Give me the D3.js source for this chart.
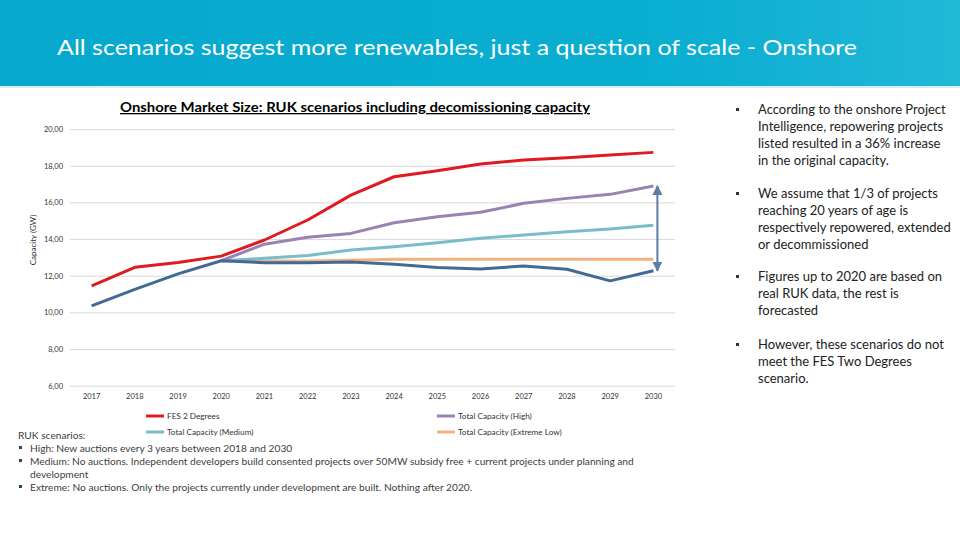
<!DOCTYPE html>
<html><head><meta charset="utf-8">
<script src="https://cdn.jsdelivr.net/npm/d3@7/dist/d3.min.js"></script>
<style>body{margin:0;background:#fff;} svg{display:block;}</style>
</head><body>
<script>
const years = [2017,2018,2019,2020,2021,2022,2023,2024,2025,2026,2027,2028,2029,2030];
const fes2Degrees   = [11.44,12.46,12.72,13.07,13.95,15.04,16.40,17.40,17.73,18.10,18.31,18.44,18.59,18.73];
const capHigh       = [null,null,null,12.82,13.72,14.10,14.31,14.89,15.22,15.46,15.95,16.22,16.44,16.90];
const capMedium     = [null,null,null,12.82,12.95,13.10,13.40,13.58,13.80,14.04,14.22,14.40,14.55,14.75];
const capExtremeLow = [null,null,null,12.82,12.80,12.80,12.84,12.90,12.90,12.90,12.90,12.90,12.90,12.90];
const capLow        = [10.35,11.26,12.10,12.82,12.71,12.71,12.75,12.62,12.45,12.37,12.53,12.35,11.72,12.27];
const yTicks = [6,8,10,12,14,16,18,20];
const legendLabels = ["FES 2 Degrees","Total Capacity (High)","Total Capacity (Medium)","Total Capacity (Extreme Low)"];
const rightNotes = [
  ["According to the onshore Project","Intelligence, repowering projects","listed resulted in a 36% increase","in the original capacity."],
  ["We assume that 1/3 of projects","reaching 20 years of age is","respectively repowered, extended","or decommissioned"],
  ["Figures up to 2020 are based on","real RUK data, the rest is","forecasted"],
  ["However, these scenarios do not","meet the FES Two Degrees","scenario."]
];
const bottomNotes = [
  ["High: New auctions every 3 years between 2018 and 2030"],
  ["Medium: No auctions. Independent developers build consented projects over 50MW subsidy free + current projects under planning and","development"],
  ["Extreme: No auctions. Only the projects currently under development are built. Nothing after 2020."]
];

const W=960,H=540;
const svg=d3.select("body").append("svg").attr("width",W).attr("height",H);
const defs=svg.append("defs");
const g1=defs.append("linearGradient").attr("id","ban").attr("x1","0").attr("x2","1").attr("y1","0").attr("y2","0");
g1.append("stop").attr("offset","0").attr("stop-color","#06a9cd");
g1.append("stop").attr("offset","0.7").attr("stop-color","#0aaed1");
g1.append("stop").attr("offset","1").attr("stop-color","#22b8d8");
svg.append("rect").attr("x",0).attr("y",0).attr("width",W).attr("height",86).attr("fill","url(#ban)");
svg.append("rect").attr("x",0).attr("y",86).attr("width",W).attr("height",2).attr("fill","#d6eef4");
svg.append("text").attr("x",57).attr("y",55).attr("fill","#fff")
  .attr("font-family","Lato, 'Open Sans', sans-serif").attr("font-size",22)
  .attr("textLength",800).attr("lengthAdjust","spacingAndGlyphs")
  .text("All scenarios suggest more renewables, just a question of scale - Onshore");

// chart
const x=d3.scaleBand().domain(years).range([70,675]);
const y=d3.scaleLinear().domain([6,20]).range([385.7,129.1]);
const cx=d=>x(d)+x.bandwidth()/2;

svg.append("text").attr("x",355).attr("y",112).attr("text-anchor","middle")
  .attr("font-family","Lato, sans-serif").attr("font-weight","bold").attr("font-size",13)
  .attr("text-decoration","underline").attr("fill","#000")
  .attr("textLength",470).attr("lengthAdjust","spacingAndGlyphs")
  .text("Onshore Market Size: RUK scenarios including decomissioning capacity");

const gy=svg.append("g").attr("transform","translate(70,0)")
  .call(d3.axisLeft(y).tickValues(yTicks).tickSize(-605).tickPadding(7)
    .tickFormat(d=>d3.format(".2f")(d).replace(".",",")));
gy.select(".domain").remove();
gy.selectAll(".tick line").attr("stroke","#d9d9d9").attr("stroke-width",1);
gy.selectAll(".tick text").attr("font-family","Lato, sans-serif").attr("font-size",7.5).attr("fill","#333");

const gx=svg.append("g").attr("transform","translate(0,385.7)")
  .call(d3.axisBottom(x).tickSize(0).tickPadding(8));
gx.select(".domain").remove();
gx.selectAll(".tick text").attr("font-family","Lato, sans-serif").attr("font-size",7.5).attr("fill","#333");

svg.append("text").attr("transform","translate(36,240) rotate(-90)").attr("text-anchor","middle")
  .attr("font-family","Lato, sans-serif").attr("font-size",8).attr("fill","#333").text("Capacity (GW)");

const series=[
  {vals:capExtremeLow,color:"#f2b183"},
  {vals:capMedium,color:"#7bbccb"},
  {vals:capHigh,color:"#9883b2"},
  {vals:capLow,color:"#426a95"},
  {vals:fes2Degrees,color:"#df1a20"}
];
const line=d3.line().defined(d=>d.v!=null).x(d=>cx(d.yr)).y(d=>y(d.v));
series.forEach(s=>{
  svg.append("path").datum(years.map((yr,i)=>({yr,v:s.vals[i]})))
    .attr("d",line).attr("fill","none").attr("stroke",s.color).attr("stroke-width",3)
    .attr("stroke-linejoin","round");
});

// arrow
const ac="#5b7fa4";
const mk=defs.append("marker").attr("id","ah").attr("viewBox","0 0 10 10").attr("refX",9).attr("refY",5)
  .attr("markerWidth",5).attr("markerHeight",5).attr("orient","auto-start-reverse");
mk.append("path").attr("d","M0,0 L10,5 L0,10 z").attr("fill",ac);
const ax=cx(2030)+4;
svg.append("line").attr("x1",ax).attr("x2",ax)
  .attr("y1",y(capHigh[capHigh.length-1])).attr("y2",y(capLow[capLow.length-1]))
  .attr("stroke",ac).attr("stroke-width",2)
  .attr("marker-start","url(#ah)").attr("marker-end","url(#ah)");

// legend
const legPos=[[146,416],[437,416],[146,432],[437,432]];
const legCol=["#df1a20","#9883b2","#7bbccb","#f2b183"];
legendLabels.forEach((l,i)=>{
  const [lx,ly]=legPos[i];
  svg.append("line").attr("x1",lx).attr("x2",lx+18).attr("y1",ly).attr("y2",ly).attr("stroke",legCol[i]).attr("stroke-width",3);
  svg.append("text").attr("x",lx+21).attr("y",ly+2.8).attr("font-family","Lato, sans-serif").attr("font-size",8.2).attr("fill","#333").text(l);
});

// bottom notes
const bf="Lato, sans-serif";
svg.append("text").attr("x",18).attr("y",439).attr("font-family",bf).attr("font-size",10.2).attr("fill","#404040").text("RUK scenarios:");
let by=452;
bottomNotes.forEach(n=>{
  svg.append("rect").attr("x",19).attr("y",by-6).attr("width",3).attr("height",3).attr("fill","#404040");
  n.forEach(t=>{
    svg.append("text").attr("x",30).attr("y",by).attr("font-family",bf).attr("font-size",10.2).attr("fill","#404040").text(t);
    by+=13;
  });
});

// right notes
const starts=[114,198,281,349];
rightNotes.forEach((lines,i)=>{
  svg.append("rect").attr("x",736).attr("y",starts[i]-6).attr("width",3).attr("height",3).attr("fill","#333");
  lines.forEach((t,j)=>{
    svg.append("text").attr("x",758).attr("y",starts[i]+j*16.9).attr("font-family",bf).attr("font-size",13).attr("fill","#222").text(t);
  });
});
</script>
</body></html>
